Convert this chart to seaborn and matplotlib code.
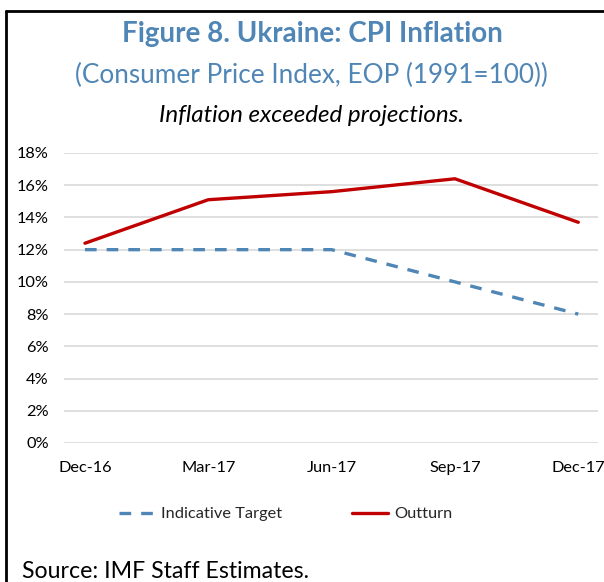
import numpy as np
import pandas as pd
import seaborn as sns
import matplotlib
matplotlib.use("Agg")
from matplotlib import pyplot as plt
from matplotlib.lines import Line2D
from matplotlib.ticker import PercentFormatter

quarters = ["Dec-16", "Mar-17", "Jun-17", "Sep-17", "Dec-17"]
target = [12.0, 12.0, 12.0, 10.0, 8.0]
outturn = [12.4, 15.1, 15.6, 16.4, 13.7]

df = pd.DataFrame({"q": quarters, "Indicative Target": target, "Outturn": outturn})
df["x"] = np.arange(len(quarters))

sns.set_style("white")
plt.rcParams["font.family"] = ["Lato", "DejaVu Sans"]

blue = "#4F86B6"
red = "#C00000"

fig = plt.figure(figsize=(6.04, 5.82), dpi=100)
ax = fig.add_axes([64 / 604, 1 - 443 / 582, (598 - 64) / 604, (443 - 153) / 582])

sns.lineplot(data=df, x="x", y="Indicative Target", ax=ax, color=blue, lw=2.4,
             label="Indicative Target")
ax.lines[-1].set_dashes([3.5, 3])
sns.lineplot(data=df, x="x", y="Outturn", ax=ax, color=red, lw=2.4, label="Outturn")

ax.set_xlim(-0.17, 4.16)
ax.set_ylim(0, 18)
ax.set_yticks(np.arange(0, 19, 2))
ax.yaxis.set_major_formatter(PercentFormatter(decimals=0))
ax.set_xticks(df["x"])
ax.set_xticklabels(quarters)
ax.set_xlabel("")
ax.set_ylabel("")
ax.grid(axis="y", color="#D9D9D9", lw=1.2)
for s in ax.spines.values():
    s.set_visible(False)
ax.tick_params(axis="both", labelsize=11.8, length=0, colors="black")
ax.tick_params(axis="y", pad=11)
ax.tick_params(axis="x", pad=13)

leg = ax.legend(loc="center", bbox_to_anchor=(0.415, -0.245), ncol=2, frameon=False,
                fontsize=11.8, handlelength=2.2, handletextpad=0.35, columnspacing=4.3)
leg.get_lines()[0].set_dashes([3.5, 3])

fig.text(0.518, 1 - 34 / 582, "Figure 8. Ukraine: CPI Inflation", ha="center", va="center",
         fontsize=20, fontweight="bold", color=blue)
fig.text(0.516, 1 - 75 / 582, "(Consumer Price Index, EOP (1991=100))", ha="center",
         va="center", fontsize=18.8, color=blue)
fig.text(0.516, 1 - 115 / 582, "Inflation exceeded projections.", ha="center", va="center",
         fontsize=17.4, style="italic", color="black")
fig.text(22 / 604, 1 - 572 / 582, "Source: IMF Staff Estimates.", ha="left", va="center",
         fontsize=16.7, color="black")

fig.add_artist(Line2D([6 / 604, 6 / 604], [0, 1 - 11 / 582], color="black", lw=2,
                      transform=fig.transFigure))
fig.add_artist(Line2D([6 / 604, 1], [1 - 11 / 582, 1 - 11 / 582], color="black", lw=2,
                      transform=fig.transFigure))

fig.savefig("out.png", dpi=100)
